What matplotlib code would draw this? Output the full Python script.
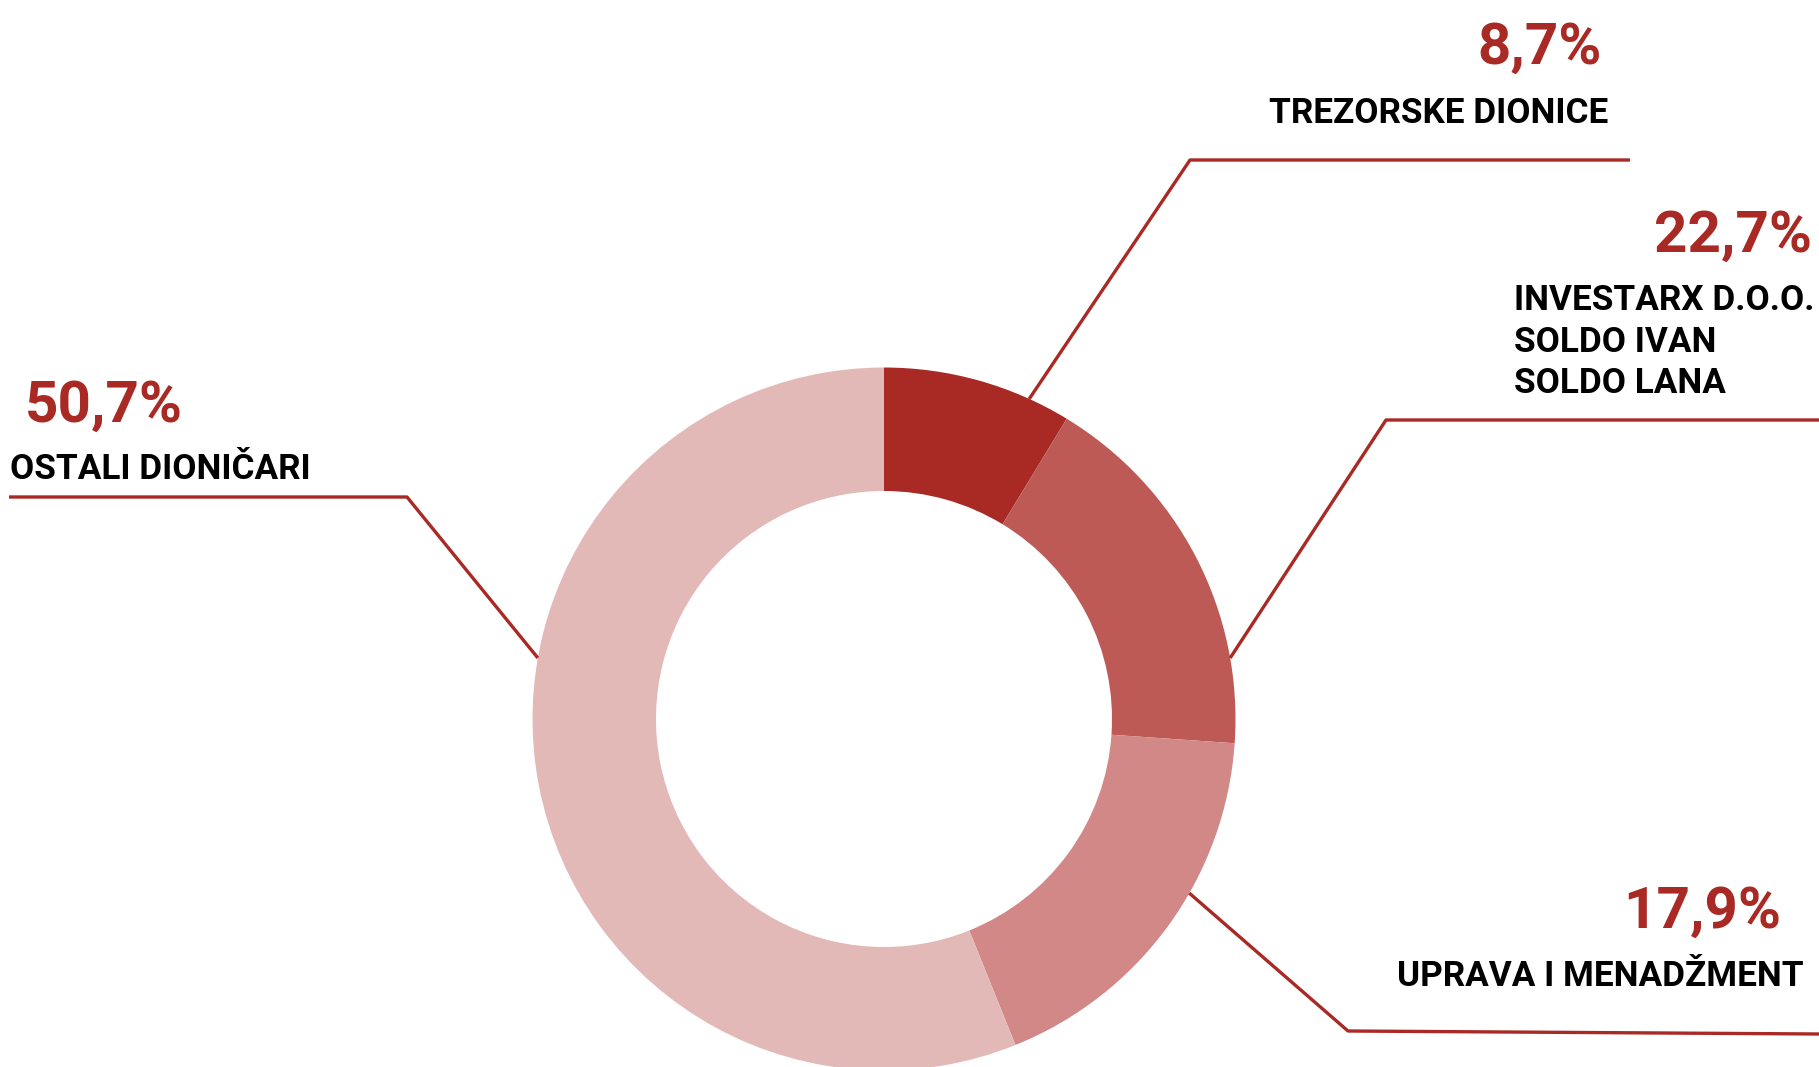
import numpy as np
import matplotlib.pyplot as plt

# wedge sizes as drawn in the picture (the printed labels differ slightly)
shares = [8.7, 17.4, 17.8, 56.1]
pct_labels = ['8,7%', '22,7%', '17,9%', '50,7%']
names = ['TREZORSKE DIONICE',
         'INVESTARX D.O.O.\nSOLDO IVAN\nSOLDO LANA',
         'UPRAVA I MENADŽMENT',
         'OSTALI DIONIČARI']
colors = ['#A92924', '#BD5A55', '#D18887', '#E3B9B8']
red = '#A92924'

W, H = 1819, 1067
fig = plt.figure(figsize=(W / 100, H / 100), dpi=100)
ax = fig.add_axes([0, 0, 1, 1])

cx, cy = 884, H - 719
R, r_in = 351.5, 228
ax.pie(shares, colors=colors, startangle=90, counterclock=False,
       center=(cx, cy), radius=R,
       wedgeprops=dict(width=R - r_in, linewidth=0))

# leader lines: angle on ring (clockwise from top), elbow, end
leaders = [
    (24.4, (1190, 160), (1630, 160)),
    (80.0, (1386, 420), (1819, 420)),
    (119.7, (1348, 1031), (1819, 1034)),
    (280.0, (407, 497), (9, 497)),
]
for ang, elbow, end in leaders:
    a = np.deg2rad(ang)
    x0 = cx + R * np.sin(a)
    y0 = cy + R * np.cos(a)
    ax.plot([x0, elbow[0], end[0]], [y0, H - elbow[1], H - end[1]],
            color=red, lw=2.4, solid_capstyle='butt', zorder=3)

fnt = 'Roboto'
# percentage texts
pct_pos = [(1602, 64, 'right'), (1812, 252, 'right'),
           (1781, 928, 'right'), (25, 422, 'left')]
for txt, (x, y, ha) in zip(pct_labels, pct_pos):
    ax.text(x, H - y, txt, ha=ha, va='baseline', fontsize=42,
            fontweight='bold', color=red, family=fnt)

# names
name_pos = [(1269, 123), (1514, 310), (1397, 986), (10, 479)]
for txt, (x, y) in zip(names, name_pos):
    for i, line in enumerate(txt.split('\n')):
        ax.text(x, H - y - i * 41.5, line, ha='left', va='baseline',
                fontsize=25.3, fontweight='bold', color='black', family=fnt)

ax.set_xlim(0, W)
ax.set_ylim(0, H)
ax.set_aspect('equal')
ax.axis('off')
fig.savefig('out.png', dpi=100, facecolor='white')
